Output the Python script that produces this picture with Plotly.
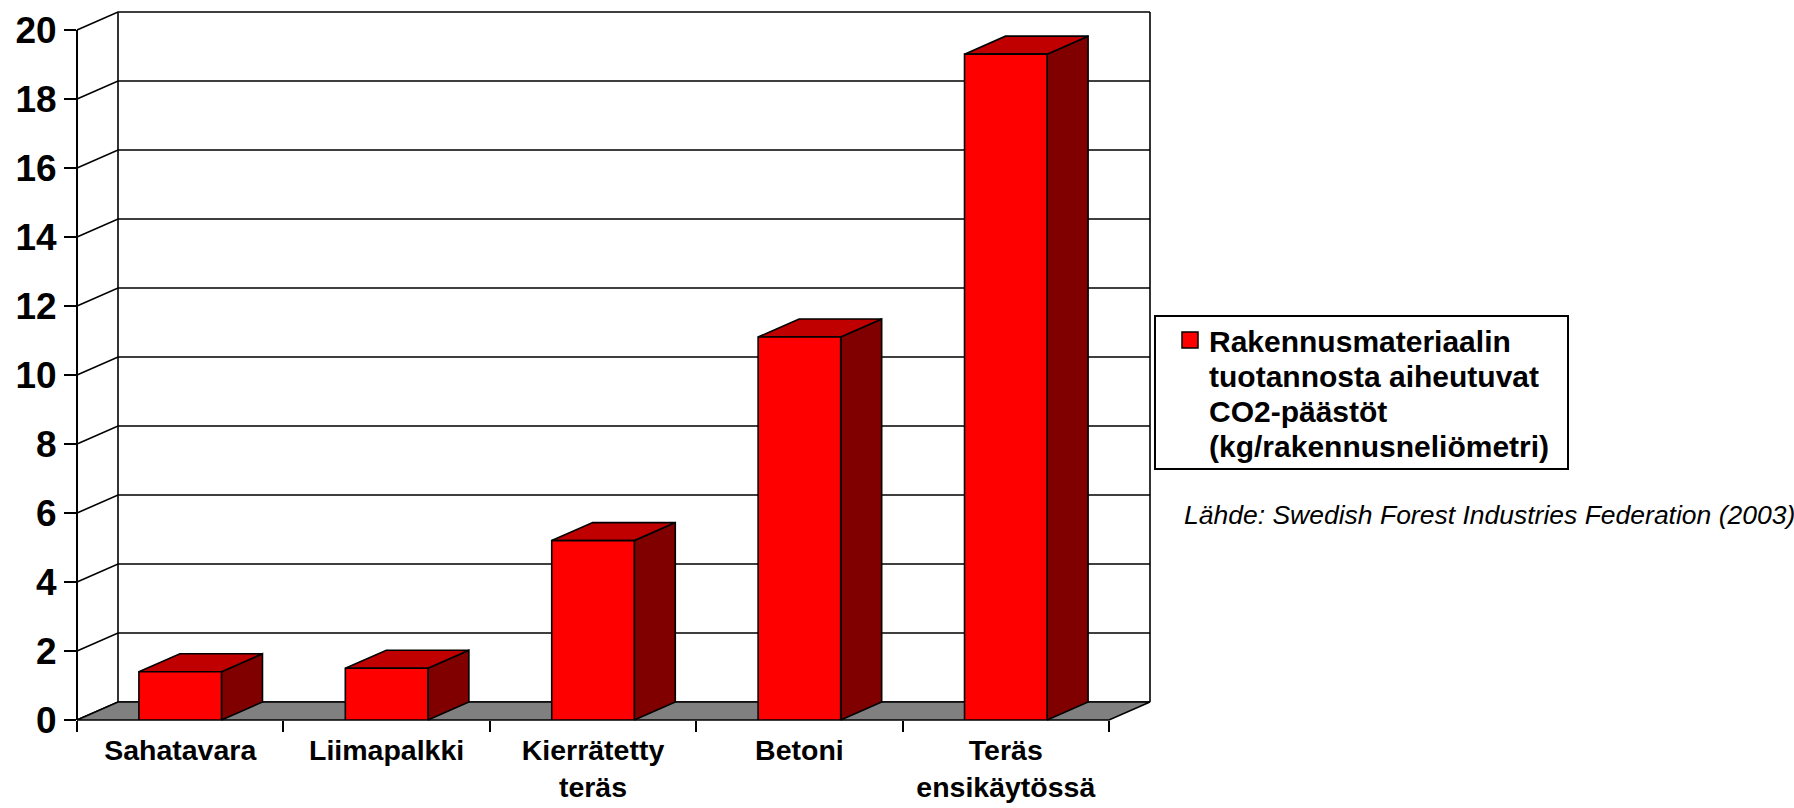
import plotly.graph_objects as go

# ---------------- data ----------------
categories = ["Sahatavara", "Liimapalkki", "Kierrätetty<br>teräs", "Betoni", "Teräs<br>ensikäytössä"]
values = [1.4, 1.5, 5.2, 11.1, 19.3]
y_ticks = [0, 2, 4, 6, 8, 10, 12, 14, 16, 18, 20]
series_lines = ["Rakennusmateriaalin", "tuotannosta aiheutuvat", "CO2-päästöt", "(kg/rakennusneliömetri)"]
source_text = "Lähde: Swedish Forest Industries Federation (2003)"

# ---------------- geometry (pixels) ----------------
W, H = 1794, 808
AX_L, AX_R = 77, 1109          # front category axis, px
Y0_PX, YTOP_PX = 720, 30       # front value axis 0 and max, px
YMAX = y_ticks[-1]
n = len(categories)
cat_px = (AX_R - AX_L) / n
val_px = (Y0_PX - YTOP_PX) / YMAX
DX_PX, DY_PX = 41, 18          # 3-D depth offset, px
BAR_W = 0.4

x_lo = -0.5 - AX_L / cat_px
x_hi = x_lo + W / cat_px
y_lo = -(H - Y0_PX) / val_px
y_hi = y_lo + H / val_px
dx = DX_PX / cat_px
dy = DY_PX / val_px
xL, xR = -0.5, n - 0.5

FONT = "Liberation Sans, Arial, sans-serif"
RED, TOP, SIDE, FLOOR = "#FF0000", "#C00000", "#800000", "#808080"


def px(x):
    return x / W


def py(y):
    return 1 - y / H


fig = go.Figure()

# walls / gridlines
gx, gy = [], []
for t in y_ticks:
    gx += [xL, xL + dx, xR + dx, None]
    gy += [t, t + dy, t + dy, None]
gx += [xL + dx, xL + dx, None, xR + dx, xR + dx, None]
gy += [dy, YMAX + dy, None, dy, YMAX + dy, None]
fig.add_trace(go.Scatter(x=gx, y=gy, mode="lines", line=dict(color="black", width=1.6),
                         hoverinfo="skip", showlegend=False))

# floor
fig.add_trace(go.Scatter(x=[xL, xR, xR + dx, xL + dx, xL], y=[0, 0, dy, dy, 0],
                         mode="lines", fill="toself", fillcolor=FLOOR,
                         line=dict(color="black", width=1.6), hoverinfo="skip", showlegend=False))

# bar sides and tops
sx, sy, tx, ty = [], [], [], []
for i, v in enumerate(values):
    l, r = i - BAR_W / 2, i + BAR_W / 2
    sx += [r, r + dx, r + dx, r, r, None]
    sy += [0, dy, v + dy, v, 0, None]
    tx += [l, r, r + dx, l + dx, l, None]
    ty += [v, v, v + dy, v + dy, v, None]
fig.add_trace(go.Scatter(x=sx, y=sy, mode="lines", fill="toself", fillcolor=SIDE,
                         line=dict(color="black", width=1.6), hoverinfo="skip", showlegend=False))
fig.add_trace(go.Scatter(x=tx, y=ty, mode="lines", fill="toself", fillcolor=TOP,
                         line=dict(color="black", width=1.6), hoverinfo="skip", showlegend=False))

# front faces: real bars on the front axes
fig.add_trace(go.Bar(x=categories, y=values, width=BAR_W, xaxis="x2", yaxis="y2",
                     name=" ".join(series_lines),
                     marker=dict(color=RED, line=dict(color="black", width=1.6)),
                     showlegend=False))

# legend (drawn box, swatch and text lines)
LEG_L, LEG_T, LEG_R, LEG_B = 1155, 316, 1568, 469
shapes = [
    dict(type="rect", xref="paper", yref="paper", x0=px(LEG_L), x1=px(LEG_R), y0=py(LEG_B), y1=py(LEG_T),
         line=dict(color="black", width=2), fillcolor="white", layer="above"),
    dict(type="rect", xref="paper", yref="paper", x0=px(1182), x1=px(1198), y0=py(348), y1=py(332),
         line=dict(color="black", width=1.5), fillcolor=RED, layer="above"),
]
annotations = []
for k, line in enumerate(series_lines):
    annotations.append(dict(text=line, xref="paper", yref="paper", x=px(1207), y=py(341 + 35 * k),
                            xanchor="left", yanchor="middle", showarrow=False,
                            font=dict(size=30, family=FONT, weight="bold", color="black")))
annotations.append(dict(text="<i>" + source_text + "</i>", xref="paper", yref="paper",
                        x=px(1182), y=py(515), xanchor="left", yanchor="middle",
                        showarrow=False, font=dict(size=26.5, family=FONT, color="black")))

fig.update_layout(
    width=W, height=H, margin=dict(l=0, r=0, t=0, b=0, pad=0, autoexpand=False),
    paper_bgcolor="white", plot_bgcolor="rgba(0,0,0,0)",
    font=dict(family=FONT, color="black"),
    showlegend=False,
    xaxis=dict(domain=[0, 1], range=[x_lo, x_hi], visible=False, fixedrange=True, automargin=False),
    yaxis=dict(domain=[0, 1], range=[y_lo, y_hi], visible=False, fixedrange=True, automargin=False),
    xaxis2=dict(type="category", domain=[AX_L / W, AX_R / W], anchor="y2", range=[-0.5, n - 0.5],
                showline=False, showgrid=False, ticks="outside", ticklen=11, tickwidth=2,
                tickcolor="black", tickson="boundaries", automargin=False, ticklabelstandoff=10,
                tickfont=dict(size=28.5, family=FONT, weight="bold", color="black"), fixedrange=True),
    yaxis2=dict(domain=[(H - Y0_PX) / H, (H - YTOP_PX) / H], range=[0, YMAX], anchor="free",
                position=AX_L / W, showline=True, linecolor="black", linewidth=2, automargin=False,
                showgrid=False, zeroline=False, ticks="outside", ticklen=12, tickwidth=2,
                tickcolor="black", tickvals=y_ticks,
                tickfont=dict(size=37, family=FONT, weight="bold", color="black"), fixedrange=True),
    shapes=shapes,
    annotations=annotations,
)

fig.write_html("out.html", config={"displayModeBar": False},
               post_script="document.body.style.margin='0px';")
